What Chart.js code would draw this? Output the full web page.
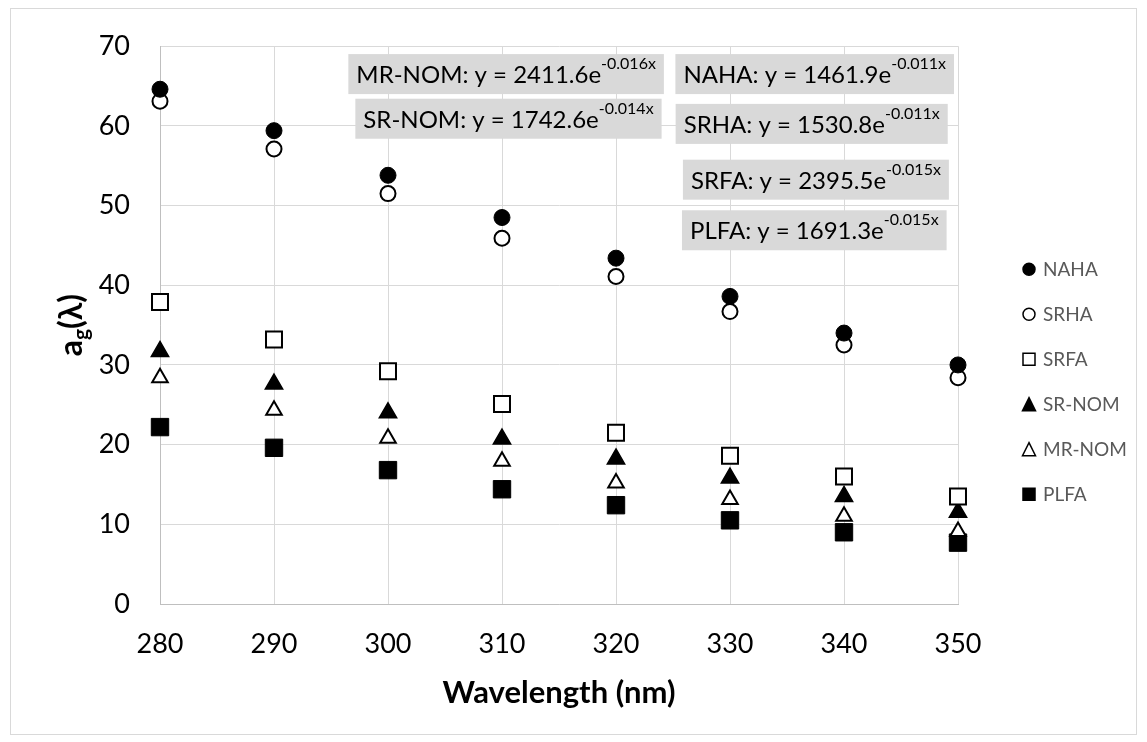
<!DOCTYPE html>
<html>
<head>
<meta charset="utf-8">
<script src="https://cdn.jsdelivr.net/npm/chart.js@4.4.1/dist/chart.umd.min.js"></script>
<style>
    html, body { margin: 0; padding: 0; background: #fff; }
    #contenedor { width: 1147px; height: 742px; position: relative; }
</style>
</head>
<body>
<div id="contenedor"><canvas id="grafica"></canvas></div>
<script>
"use strict";

// datos
const wavelengths = [280, 290, 300, 310, 320, 330, 340, 350];
const naha  = [64.6, 59.4, 53.8, 48.5, 43.4, 38.6, 34.0, 30.0];
const srha  = [63.1, 57.1, 51.5, 45.9, 41.1, 36.7, 32.5, 28.4];
const srfa  = [37.9, 33.2, 29.2, 25.1, 21.5, 18.6, 16.0, 13.5];
const srNom = [31.7, 27.6, 24.0, 20.7, 18.2, 15.8, 13.5, 11.5];
const mrNom = [28.4, 24.3, 20.8, 17.9, 15.2, 13.1, 11.0, 9.1];
const plfa  = [22.2, 19.6, 16.8, 14.4, 12.4, 10.5, 9.0, 7.7];

const seriesNames = ["NAHA", "SRHA", "SRFA", "SR-NOM", "MR-NOM", "PLFA"];
const yTicks = [0, 10, 20, 30, 40, 50, 60, 70];

// ecuaciones de ajuste exponencial
const fitNames = ["MR-NOM", "SR-NOM", "NAHA", "SRHA", "SRFA", "PLFA"];
const fitCoefs = ["2411.6", "1742.6", "1461.9", "1530.8", "2395.5", "1691.3"];
const fitExps  = ["-0.016", "-0.014", "-0.011", "-0.011", "-0.015", "-0.015"];

// posicion de cada caja (borde derecho y centro, en unidades del grafico)
const fitBoxRight = [324.2, 324.0, 349.65, 349.1, 349.2, 349.0];
const fitBoxMid   = [66.5, 60.9, 66.5, 60.25, 53.25, 46.9];

const FONT = "Lato, 'Open Sans', sans-serif";

function toPoints(values) {
    return wavelengths.map((x, i) => ({ x: x, y: values[i] }));
}

function marker(ctx, style, x, y, size, fill) {
    ctx.save();
    ctx.fillStyle = fill;
    ctx.strokeStyle = "#000";
    ctx.lineWidth = 1.5;
    ctx.beginPath();
    if (style === "circle") {
        ctx.arc(x, y, size / 2, 0, Math.PI * 2);
    } else if (style === "rect") {
        ctx.rect(x - size / 2, y - size / 2, size, size);
    } else {
        ctx.moveTo(x, y - size / 2);
        ctx.lineTo(x + size / 2, y + size / 2);
        ctx.lineTo(x - size / 2, y + size / 2);
        ctx.closePath();
    }
    ctx.fill();
    ctx.stroke();
    ctx.restore();
}

const fondo = {
    id: "fondo",
    beforeDraw(chart) {
        const { ctx } = chart;
        ctx.save();
        ctx.fillStyle = "#fff";
        ctx.fillRect(0, 0, chart.width, chart.height);
        ctx.strokeStyle = "#d9d9d9";
        ctx.lineWidth = 1;
        ctx.strokeRect(10.5, 8.5, 1126, 726);
        ctx.restore();
    }
};

// titulo del eje y con subindice
const tituloY = {
    id: "tituloY",
    afterDraw(chart) {
        const { ctx, chartArea } = chart;
        const big = "bold 32px " + FONT;
        const small = "bold 21px " + FONT;
        ctx.save();
        ctx.fillStyle = "#000";
        ctx.font = big;
        const wA = ctx.measureText("a").width;
        const wP = ctx.measureText("(λ)").width;
        ctx.font = small;
        const wG = ctx.measureText("g").width;
        const total = wA + wG + wP;
        ctx.translate(82, (chartArea.top + chartArea.bottom) / 2);
        ctx.rotate(-Math.PI / 2);
        ctx.textBaseline = "alphabetic";
        let x = -total / 2;
        ctx.font = big;
        ctx.fillText("a", x, 0);
        x += wA;
        ctx.font = small;
        ctx.fillText("g", x, 6);
        x += wG;
        ctx.font = big;
        ctx.fillText("(λ)", x, 0);
        ctx.restore();
    }
};

// cajas grises con las ecuaciones
const ecuaciones = {
    id: "ecuaciones",
    afterDatasetsDraw(chart) {
        const { ctx } = chart;
        const xs = chart.scales.x;
        const ys = chart.scales.y;
        const main = "24px " + FONT;
        const sup = "16px " + FONT;
        ctx.save();
        fitNames.forEach((name, i) => {
            const txt = name + ": y = " + fitCoefs[i] + "e";
            const exp = fitExps[i] + "x";
            ctx.font = main;
            const w1 = ctx.measureText(txt).width;
            ctx.font = sup;
            const w2 = ctx.measureText(exp).width;
            const boxW = w1 + w2 + 16;
            const right = xs.getPixelForValue(fitBoxRight[i]);
            const mid = ys.getPixelForValue(fitBoxMid[i]);
            const left = right - boxW;
            ctx.fillStyle = "#d9d9d9";
            ctx.fillRect(left, mid - 20, boxW, 40);
            ctx.fillStyle = "#000";
            ctx.textBaseline = "alphabetic";
            ctx.font = main;
            ctx.fillText(txt, left + 8, mid + 9);
            ctx.font = sup;
            ctx.fillText(exp, left + 8 + w1, mid - 5);
        });
        ctx.restore();
    }
};

// leyenda a la derecha
const leyenda = {
    id: "leyenda",
    afterDraw(chart) {
        const { ctx, chartArea } = chart;
        ctx.save();
        ctx.font = "19px " + FONT;
        ctx.textBaseline = "middle";
        chart.data.datasets.forEach((ds, i) => {
            const cy = chartArea.top + 223 + i * 45;
            const cx = chartArea.right + 71;
            marker(ctx, ds.pointStyle, cx, cy, ds.pointStyle === "triangle" ? 13 : 12, ds.backgroundColor);
            ctx.fillStyle = "#595959";
            ctx.fillText(ds.label, chartArea.right + 85, cy + 1);
        });
        ctx.restore();
    }
};

const estilos = [
    { pointStyle: "circle", backgroundColor: "#000", pointRadius: 8, pointBorderWidth: 1 },
    { pointStyle: "circle", backgroundColor: "#fff", pointRadius: 7.5, pointBorderWidth: 2 },
    { pointStyle: "rect", backgroundColor: "#fff", pointRadius: 11.3, pointBorderWidth: 2 },
    { pointStyle: "triangle", backgroundColor: "#000", pointRadius: 10, pointBorderWidth: 1.5 },
    { pointStyle: "triangle", backgroundColor: "#fff", pointRadius: 9, pointBorderWidth: 2 },
    { pointStyle: "rect", backgroundColor: "#000", pointRadius: 12.3, pointBorderWidth: 1 }
];

const valores = [naha, srha, srfa, srNom, mrNom, plfa];

const datasets = valores.map((serie, i) => ({
    label: seriesNames[i],
    data: toPoints(serie),
    showLine: false,
    clip: false,
    pointStyle: estilos[i].pointStyle,
    backgroundColor: estilos[i].backgroundColor,
    borderColor: "#000",
    pointBackgroundColor: estilos[i].backgroundColor,
    pointBorderColor: "#000",
    pointRadius: estilos[i].pointRadius,
    pointBorderWidth: estilos[i].pointBorderWidth,
    pointHoverRadius: estilos[i].pointRadius
}));

new Chart(document.querySelector("#grafica"), {
    type: "scatter",
    data: { datasets: datasets },
    options: {
        responsive: true,
        maintainAspectRatio: false,
        animation: false,
        layout: { padding: { left: 58, right: 189, top: 44, bottom: 0 } },
        plugins: {
            legend: { display: false },
            tooltip: { enabled: false }
        },
        scales: {
            x: {
                type: "linear",
                min: 280,
                max: 350,
                afterBuildTicks: (scale) => {
                    scale.ticks = wavelengths.map((v) => ({ value: v }));
                },
                afterFit: (scale) => { scale.height = 138; },
                grid: { color: "#d9d9d9", lineWidth: 1, drawTicks: false },
                border: { color: "#bfbfbf", width: 1 },
                ticks: { color: "#000", font: { family: FONT, size: 27 }, padding: 24 },
                title: {
                    display: true,
                    text: "Wavelength (nm)",
                    color: "#000",
                    font: { family: FONT, size: 31, weight: "bold" },
                    padding: { top: 0, bottom: 30 }
                }
            },
            y: {
                type: "linear",
                min: 0,
                max: 70,
                afterBuildTicks: (scale) => {
                    scale.ticks = yTicks.map((v) => ({ value: v }));
                },
                afterFit: (scale) => { scale.width = 102; },
                grid: { color: "#d9d9d9", lineWidth: 1, drawTicks: false },
                border: { color: "#bfbfbf", width: 1 },
                ticks: { color: "#000", font: { family: FONT, size: 27 }, padding: 30 }
            }
        }
    },
    plugins: [fondo, ecuaciones, tituloY, leyenda]
});
</script>
</body>
</html>
